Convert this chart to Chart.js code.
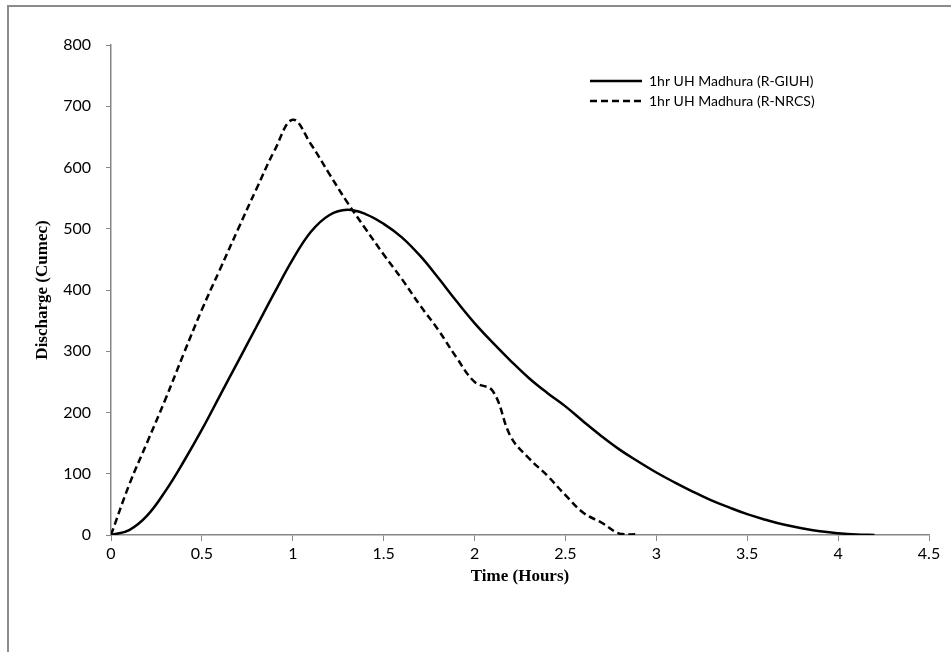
<!DOCTYPE html>
<html>
<head>
<meta charset="utf-8">
<script src="https://cdn.jsdelivr.net/npm/chart.js@4.4.0/dist/chart.umd.min.js"></script>
<style>
  html, body { margin: 0; padding: 0; background: #fff; }
  #frame { position: absolute; left: 7px; top: 5px; width: 960px; height: 660px;
           border-left: 2px solid #8c8c8c; border-top: 2px solid #8c8c8c; }
  #uhChart { position: absolute; left: 0; top: 0; }
</style>
</head>
<body>
<div id="frame"></div>
<canvas id="uhChart" width="951" height="652"></canvas>
<script>
// time in hours, discharge in cumec
const timeGIUH = [0, 0.1, 0.2, 0.3, 0.4, 0.5, 0.6, 0.7, 0.8, 0.9, 1.0, 1.1, 1.2, 1.3, 1.4,
                  1.5, 1.6, 1.7, 1.8, 1.9, 2.0, 2.1, 2.2, 2.3, 2.4, 2.5, 2.6, 2.7, 2.8, 2.9,
                  3.0, 3.1, 3.2, 3.3, 3.4, 3.5, 3.6, 3.7, 3.8, 3.9, 4.0, 4.1, 4.2];
const flowGIUH = [0, 8, 32, 72, 120, 172, 228, 284, 340, 396, 450, 495, 522, 531, 524,
                  508, 486, 456, 420, 382, 346, 314, 284, 256, 232, 210, 185, 161, 139, 120,
                  102, 86, 71, 57, 45, 34, 25, 17, 11, 6, 3, 1, 0];

const timeNRCS = [0, 0.1, 0.2, 0.3, 0.4, 0.5, 0.6, 0.7, 0.8, 0.9, 1.0, 1.1, 1.2, 1.3, 1.4,
                  1.5, 1.6, 1.7, 1.8, 1.9, 2.0, 2.1, 2.2, 2.3, 2.4, 2.5, 2.6, 2.7, 2.8, 2.9];
const flowNRCS = [0, 82, 152, 222, 296, 368, 434, 500, 565, 628, 678, 638, 590, 543, 500,
                  458, 418, 375, 335, 290, 250, 235, 160, 125, 97, 65, 36, 20, 2, 1];

const seriesNames = ['1hr UH Madhura (R-GIUH)', '1hr UH Madhura (R-NRCS)'];
const xTicks = [0, 0.5, 1, 1.5, 2, 2.5, 3, 3.5, 4, 4.5];
const yTicks = [0, 100, 200, 300, 400, 500, 600, 700, 800];

const axisGray = '#868686';
const tickFont = { family: 'Lato', size: 16 };
const titleFont = { family: 'Liberation Serif', size: 17, weight: 'bold' };

function points(xs, ys) {
    return xs.map((x, i) => ({ x: x, y: ys[i] }));
}

// moves the legend into the upper right of the plot, like the original
const legendSpot = {
    id: 'legendSpot',
    afterUpdate(chart) {
        const lg = chart.legend;
        lg.left = 584;
        lg.top = 68;
        lg.right = 951;
        lg.bottom = 300;
    }
};

let ctx = document.getElementById('uhChart');

new Chart(ctx, {
    type: 'scatter',
    data: {
        datasets: [{
            label: seriesNames[0],
            data: points(timeGIUH, flowGIUH),
            showLine: true,
            borderColor: '#000',
            backgroundColor: '#000',
            borderWidth: 2.5,
            pointRadius: 0,
            tension: 0.4,
        }, {
            label: seriesNames[1],
            data: points(timeNRCS, flowNRCS),
            showLine: true,
            borderColor: '#000',
            backgroundColor: '#000',
            borderWidth: 2.5,
            borderDash: [7, 4],
            pointRadius: 0,
            tension: 0.4,
        }],
    },
    options: {
        responsive: false,
        animation: false,
        layout: { padding: { left: 32, top: 45, right: 22, bottom: 65 } },
        plugins: {
            tooltip: { enabled: false },
            legend: {
                position: 'chartArea',
                align: 'start',
                labels: {
                    usePointStyle: true,
                    pointStyle: 'line',
                    pointStyleWidth: 52,
                    padding: 6,
                    color: '#000',
                    font: { family: 'Lato', size: 14 },
                    generateLabels: chart => {
                        const items = Chart.defaults.plugins.legend.labels.generateLabels(chart);
                        items.forEach(it => {
                            it.lineDash = chart.data.datasets[it.datasetIndex].borderDash || [];
                        });
                        return items;
                    },
                },
            },
        },
        scales: {
            x: {
                type: 'linear',
                min: 0,
                max: 4.5,
                afterFit: s => { s.height = 52; },
                afterBuildTicks: s => { s.ticks = xTicks.map(v => ({ value: v })); },
                border: { color: axisGray, width: 1.5 },
                grid: { drawOnChartArea: false, color: axisGray, tickLength: 6 },
                ticks: { color: '#000', font: tickFont, padding: 3, callback: v => String(v) },
                title: { display: true, text: 'Time (Hours)', color: '#000', font: titleFont, padding: 0 },
            },
            y: {
                min: 0,
                max: 800,
                afterFit: s => { s.width = 79; },
                afterBuildTicks: s => { s.ticks = yTicks.map(v => ({ value: v })); },
                border: { color: axisGray, width: 1.5 },
                grid: { drawOnChartArea: false, color: axisGray, tickLength: 5 },
                ticks: { color: '#000', font: tickFont, padding: 15, callback: v => String(v) },
                title: { display: true, text: 'Discharge (Cumec)', color: '#000', font: titleFont, padding: 0 },
            },
        },
    },
    plugins: [legendSpot],
});
</script>
</body>
</html>
